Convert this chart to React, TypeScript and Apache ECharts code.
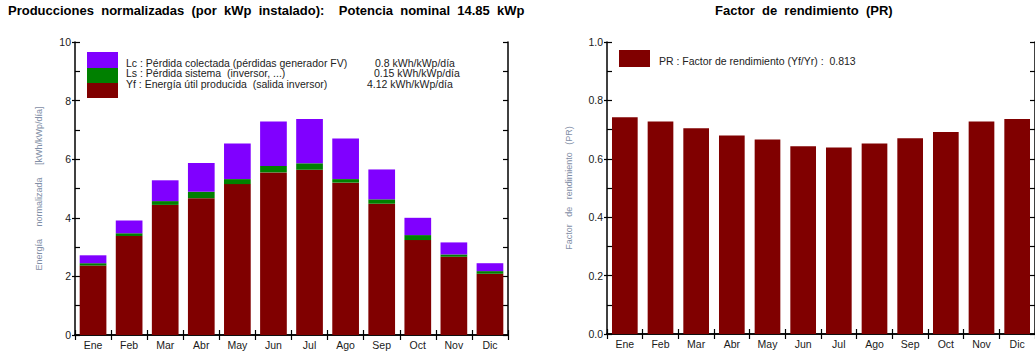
import React, { useEffect, useRef } from "react";
import * as echarts from "echarts";

const months = ["Ene", "Feb", "Mar", "Abr", "May", "Jun", "Jul", "Ago", "Sep", "Oct", "Nov", "Dic"];
// Yf: useful energy, Ls: system loss, Lc: collection loss (kWh/kWp/día)
const yfValues = [2.37, 3.38, 4.44, 4.67, 5.15, 5.55, 5.64, 5.2, 4.48, 3.24, 2.67, 2.09];
const lsValues = [0.08, 0.09, 0.13, 0.22, 0.17, 0.22, 0.22, 0.12, 0.15, 0.17, 0.08, 0.09];
const lcValues = [0.27, 0.44, 0.71, 0.98, 1.22, 1.52, 1.51, 1.39, 1.02, 0.59, 0.41, 0.27];
const prValues = [0.742, 0.728, 0.705, 0.68, 0.666, 0.643, 0.639, 0.652, 0.67, 0.692, 0.728, 0.736];

const legendLabels = [
  "Lc : Pérdida colectada (pérdidas generador FV)",
  "Ls : Pérdida sistema\u00a0\u00a0(inversor, ...)",
  "Yf : Energía útil producida\u00a0\u00a0(salida inversor)",
];
const legendValues = ["0.8 kWh/kWp/día", "0.15 kWh/kWp/día", "4.12 kWh/kWp/día"];
const prLegend = "PR : Factor de rendimiento (Yf/Yr) :\u00a0\u00a00.813";

const titleLeft =
  "Producciones\u00a0\u00a0normalizadas\u00a0\u00a0(por\u00a0\u00a0kWp\u00a0\u00a0instalado):\u00a0\u00a0\u00a0\u00a0Potencia\u00a0\u00a0nominal\u00a0\u00a014.85\u00a0\u00a0kWp";
const titleRight = "Factor\u00a0\u00a0de\u00a0\u00a0rendimiento\u00a0\u00a0(PR)";

const C_LC = "#8000ff";
const C_LS = "#008000";
const C_YF = "#800000";
const FONT = "Liberation Sans, Arial, sans-serif";

export default function App() {
  const ref = useRef<HTMLDivElement>(null);
  useEffect(() => {
    if (!ref.current) return;
    const chart = echarts.init(ref.current, null, { renderer: "svg" });
    const axisLine = { show: true, lineStyle: { color: "#000", width: 1.5 } };
    const tickLabel = { color: "#1a1a1a", fontSize: 10.5, fontFamily: FONT };

    const makeX = (grid: number, pos: "bottom" | "top", labels: boolean) => ({
      type: "category",
      gridIndex: grid,
      position: pos,
      data: months,
      boundaryGap: true,
      axisLine,
      axisTick: { show: true, inside: true, length: 5, lineStyle: { color: "#000", width: 1.2 } },
      axisLabel: labels ? { ...tickLabel, margin: 4 } : { show: false },
    });
    const makeY = (
      grid: number,
      pos: "left" | "right",
      max: number,
      interval: number,
      opts: any
    ) => ({
      type: "value",
      gridIndex: grid,
      position: pos,
      min: 0,
      max,
      interval,
      splitLine: { show: false },
      axisLine,
      axisTick: { show: true, inside: true, length: 5, lineStyle: { color: "#000", width: 1.2 } },
      minorTick: { show: true, splitNumber: 2, length: 5, lineStyle: { color: "#000", width: 1.2 } },
      axisLabel: { show: false },
      ...opts,
    });

    const option: any = {
      animation: false,
      backgroundColor: "#fff",
      textStyle: { fontFamily: FONT },
      grid: [
        { left: 75, top: 42, width: 433, height: 293 },
        { left: 607, top: 42, width: 433, height: 292 },
      ],
      xAxis: [
        makeX(0, "bottom", true),
        makeX(0, "top", false),
        makeX(1, "bottom", true),
        makeX(1, "top", false),
      ],
      yAxis: [
        makeY(0, "left", 10, 2, {
          axisLabel: { ...tickLabel, margin: 4 },
          name: "Energía\u00a0\u00a0\u00a0\u00a0\u00a0normalizada\u00a0\u00a0\u00a0\u00a0\u00a0[kWh/kWp/día]",
          nameLocation: "middle",
          nameRotate: 90,
          nameGap: 32,
          nameTextStyle: { color: "#7f8ea6", fontSize: 9, fontFamily: FONT },
        }),
        makeY(0, "right", 10, 1, { minorTick: { show: false } }),
        makeY(0, "left", 10, 2, {
          axisLine: { show: false },
          minorTick: { show: false },
          axisTick: { show: true, inside: false, length: 3, lineStyle: { color: "#000", width: 1.2 } },
        }),
        makeY(1, "left", 1, 0.2, {
          axisLabel: {
            ...tickLabel,
            margin: 4,
            formatter: (v: number) => v.toFixed(1),
          },
          name: "Factor\u00a0\u00a0\u00a0de\u00a0\u00a0\u00a0rendimiento\u00a0\u00a0\u00a0(PR)",
          nameLocation: "middle",
          nameRotate: 90,
          nameGap: 34,
          nameTextStyle: { color: "#7f8ea6", fontSize: 9, fontFamily: FONT },
        }),
        makeY(1, "right", 1, 0.1, { minorTick: { show: false } }),
        makeY(1, "left", 1, 0.2, {
          axisLine: { show: false },
          minorTick: { show: false },
          axisTick: { show: true, inside: false, length: 3, lineStyle: { color: "#000", width: 1.2 } },
        }),
      ],
      series: [
        {
          type: "bar",
          name: "Yf",
          xAxisIndex: 0,
          yAxisIndex: 0,
          stack: "a",
          data: yfValues,
          barCategoryGap: "26%",
          itemStyle: { color: C_YF },
        },
        {
          type: "bar",
          name: "Ls",
          xAxisIndex: 0,
          yAxisIndex: 0,
          stack: "a",
          data: lsValues,
          itemStyle: { color: C_LS },
        },
        {
          type: "bar",
          name: "Lc",
          xAxisIndex: 0,
          yAxisIndex: 0,
          stack: "a",
          data: lcValues,
          itemStyle: { color: C_LC },
        },
        {
          type: "bar",
          name: "PR",
          xAxisIndex: 2,
          yAxisIndex: 3,
          data: prValues,
          barCategoryGap: "28%",
          itemStyle: { color: C_YF },
        },
      ],
      graphic: [
        {
          type: "text",
          left: 8,
          top: 4,
          style: { text: titleLeft, font: `bold 13px ${FONT}`, fill: "#000" },
        },
        {
          type: "text",
          left: 715,
          top: 4,
          style: { text: titleRight, font: `bold 13px ${FONT}`, fill: "#000" },
        },
        // left legend boxes
        { type: "rect", shape: { x: 87, y: 52, width: 31, height: 16 }, style: { fill: C_LC } },
        { type: "rect", shape: { x: 87, y: 68, width: 31, height: 15 }, style: { fill: C_LS } },
        { type: "rect", shape: { x: 87, y: 83, width: 31, height: 15 }, style: { fill: C_YF } },
        ...legendLabels.map((t, i) => ({
          type: "text",
          x: 126,
          y: 63 + i * 10.3,
          style: { text: t, font: `10.5px ${FONT}`, fill: "#222", verticalAlign: "middle" },
        })),
        ...legendValues.map((t, i) => ({
          type: "text",
          x: [375, 374, 367][i],
          y: 63 + i * 10.3,
          style: { text: t, font: `10.5px ${FONT}`, fill: "#222", verticalAlign: "middle" },
        })),
        // right legend
        { type: "rect", shape: { x: 619, y: 50, width: 31, height: 17 }, style: { fill: C_YF } },
        {
          type: "text",
          x: 659,
          y: 61,
          style: { text: prLegend, font: `10.5px ${FONT}`, fill: "#222", verticalAlign: "middle" },
        },
      ],
    };
    chart.setOption(option);
    return () => chart.dispose();
  }, []);
  return (
    <div
      ref={ref}
      style={{ position: "fixed", left: 0, top: 0, width: 1035, height: 354, background: "#fff" }}
    />
  );
}
